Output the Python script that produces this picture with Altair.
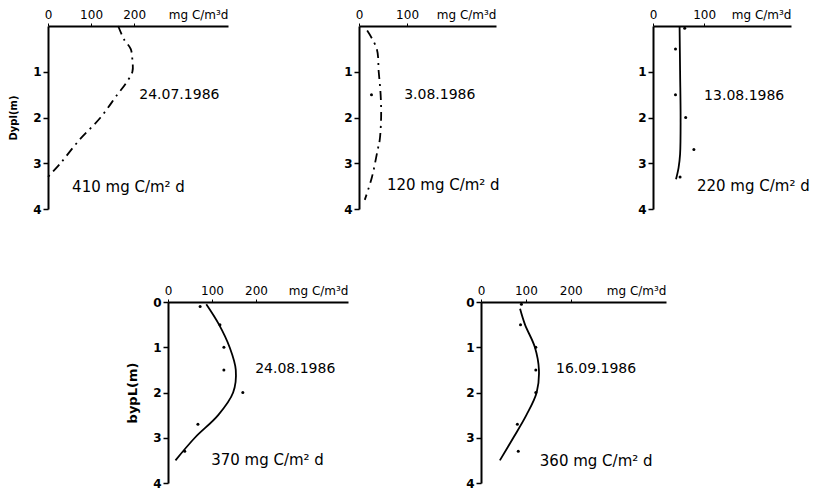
import altair as alt
import pandas as pd

# ---------------- data ----------------
dates = ["24.07.1986", "3.08.1986", "13.08.1986", "24.08.1986", "16.09.1986"]
integrals = ["410 mg C/m² d", "120 mg C/m² d", "220 mg C/m² d", "370 mg C/m² d", "360 mg C/m² d"]
unit_label = "mg C/m³d"
y_titles = ["Dypl(m)", "", "", "bypL(m)", ""]

x_ticks = [[0, 100, 200], [0, 100], [0, 100], [0, 100, 200], [0, 100, 200]]
y_ticks = [[1, 2, 3, 4], [1, 2, 3, 4], [1, 2, 3, 4], [0, 1, 2, 3, 4], [0, 1, 2, 3, 4]]

curve1_depth = [0, 0.3, 0.5, 0.75, 1.0, 1.25, 1.5, 2.0, 2.5, 3.0, 3.3]
curve1_value = [163, 177, 192, 196, 196, 181, 161, 122, 72, 29, 0]
curve2_depth = [0.1, 0.5, 1.0, 1.5, 2.0, 2.5, 2.7, 3.3, 3.8]
curve2_value = [17, 37, 41, 45, 46, 43, 39, 27, 12]
curve3_depth = [0, 1.0, 2.0, 2.8, 3.1, 3.35]
curve3_value = [52, 53, 54, 53, 50, 45]
curve4_depth = [0.05, 0.5, 1.0, 1.5, 2.0, 2.5, 3.0, 3.5]
curve4_value = [87, 116, 140, 154, 148, 114, 61, 17]
curve5_depth = [0.15, 0.5, 1.0, 1.5, 2.0, 2.5, 3.0, 3.5]
curve5_value = [87, 98, 120, 129, 124, 101, 72, 42]

obs1_depth, obs1_value = [], []
obs2_depth = [1.5]
obs2_value = [26]
obs3_depth = [0.05, 0.5, 1.5, 2.0, 2.7, 3.3]
obs3_value = [62, 44, 44, 64, 80, 53]
obs4_depth = [0.1, 0.5, 1.0, 1.5, 2.0, 2.7, 3.3]
obs4_value = [73, 118, 127, 127, 170, 68, 38]
obs5_depth = [0.05, 0.5, 1.0, 1.5, 2.0, 2.7, 3.3]
obs5_value = [90, 88, 122, 122, 122, 81, 83]

curves = [(curve1_depth, curve1_value), (curve2_depth, curve2_value), (curve3_depth, curve3_value),
          (curve4_depth, curve4_value), (curve5_depth, curve5_value)]
obs = [(obs1_depth, obs1_value), (obs2_depth, obs2_value), (obs3_depth, obs3_value),
       (obs4_depth, obs4_value), (obs5_depth, obs5_value)]

# ---------------- layout / style ----------------
FONT = "DejaVu Sans"
x_max = [418, 285, 270, 409, 412]
widths = [180, 137, 138, 180, 185]
heights = [183, 183, 183, 181, 181]
dashed = [True, True, False, False, False]
title_size = [10, 11, 11, 13, 11]
title_pad = [14, 0, 0, 13, 0]
# annotation anchor points in data units (value, depth)
date_anchor = [(212, 1.5), (94, 1.5), (100, 1.52), (198, 1.48), (167, 1.49)]
integ_anchor = [(56, 3.52), (58, 3.48), (86, 3.49), (98, 3.49), (131, 3.52)]


def panel(i):
    w, h = widths[i], heights[i]
    xs = alt.Scale(domain=[0, x_max[i]], nice=False, zero=True)
    ys = alt.Scale(domain=[0, 4], reverse=True, nice=False)
    x_axis = alt.Axis(orient="top", values=x_ticks[i], title=unit_label, titleAnchor="end",
                      titleAlign="right", titleX=w, titleY=-5, titleBaseline="bottom",
                      titleFontSize=12, titleFontWeight="normal", titleFont=FONT,
                      tickSize=3, labelPadding=2, labelFontSize=12, labelFont=FONT,
                      domainWidth=2, domainColor="black", tickColor="black",
                      labelColor="black", titleColor="black", grid=False, labelFlush=False)
    y_axis = alt.Axis(orient="left", values=y_ticks[i], title=y_titles[i],
                      titleFontSize=title_size[i], titleFontWeight="bold",
                      titlePadding=title_pad[i], titleFont=FONT, titleColor="black",
                      tickSize=5, labelPadding=2, labelFontSize=12, labelFont=FONT,
                      labelFontWeight="bold", domainWidth=2, domainColor="black", tickColor="black",
                      tickWidth=1.5, labelColor="black", grid=False, format="d")

    X = alt.X("value:Q", scale=xs, axis=x_axis)
    Y = alt.Y("depth:Q", scale=ys, axis=y_axis)

    cdf = pd.DataFrame({"depth": curves[i][0], "value": curves[i][1]})
    cdf["order"] = range(len(cdf))
    line_kw = dict(interpolate="catmull-rom", color="black", strokeWidth=1.8)
    if dashed[i]:
        line_kw["strokeDash"] = [9, 5, 2, 5]
    line = alt.Chart(cdf).mark_line(**line_kw).encode(x=X, y=Y, order="order:Q")
    layers = [line]
    if len(obs[i][0]):
        odf = pd.DataFrame({"depth": obs[i][0], "value": obs[i][1]})
        pts = alt.Chart(odf).mark_circle(size=9, color="black", opacity=1).encode(x=X, y=Y)
        layers.append(pts)
    ddf = pd.DataFrame({"value": [date_anchor[i][0]], "depth": [date_anchor[i][1]],
                        "text": [dates[i]]})
    idf = pd.DataFrame({"value": [integ_anchor[i][0]], "depth": [integ_anchor[i][1]],
                        "text": [integrals[i]]})
    dtxt = alt.Chart(ddf).mark_text(align="left", baseline="middle", fontSize=14, font=FONT,
                                    color="black").encode(x=X, y=Y, text="text:N")
    itxt = alt.Chart(idf).mark_text(align="left", baseline="middle", fontSize=15, font=FONT,
                                    color="black").encode(x=X, y=Y, text="text:N")
    layers += [dtxt, itxt]
    return alt.layer(*layers).properties(width=w, height=h)


p = [panel(i) for i in range(5)]

spacer = alt.Chart(pd.DataFrame({"s": [0]})).mark_point(opacity=0).properties(width=120, height=10)

row1 = alt.hconcat(p[0], alt.hconcat(p[1], p[2], spacing=157, bounds="flush"),
                   spacing=131, bounds="flush")
row2 = alt.hconcat(spacer, alt.hconcat(p[3], p[4], spacing=133, bounds="flush"),
                   spacing=0, bounds="flush")

chart = alt.vconcat(row1, row2, spacing=69).configure(
    padding={"left": 0, "top": 0, "right": 0, "bottom": 0}
).configure_view(stroke=None)

chart.save("out.html", embed_options={"renderer": "svg", "actions": False})
